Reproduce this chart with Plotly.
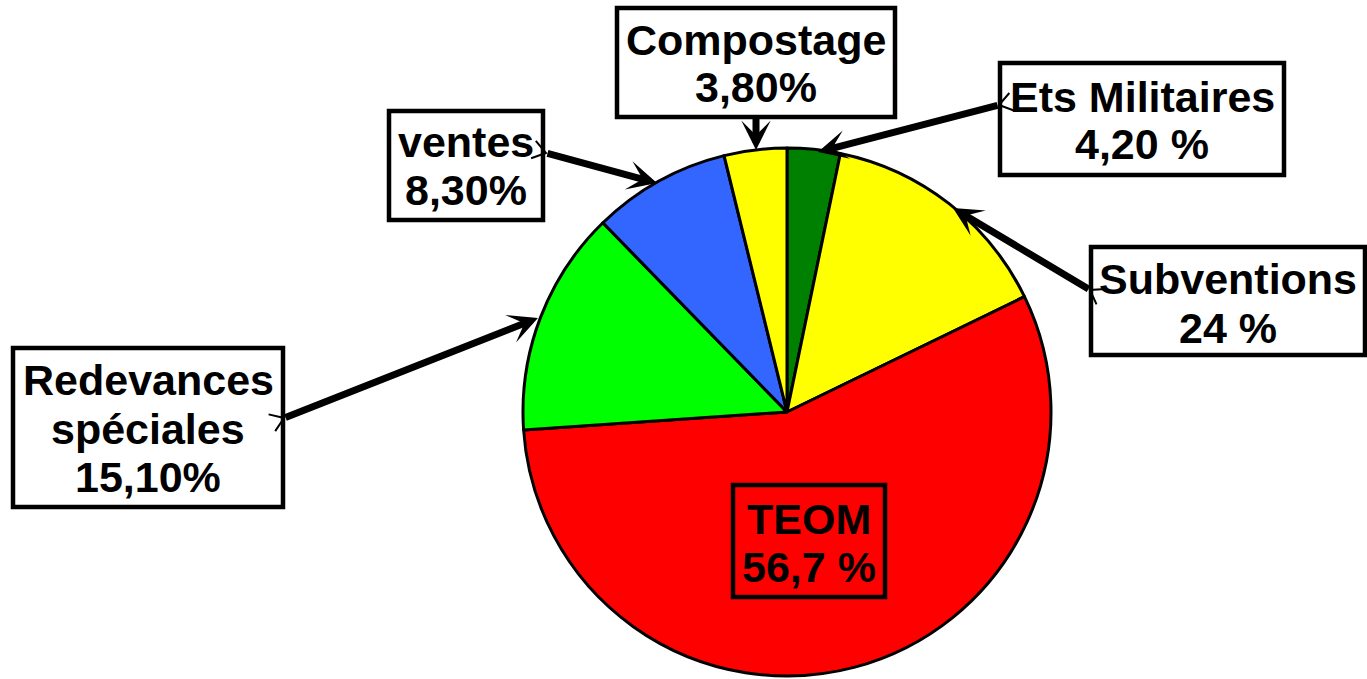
import math
import plotly.graph_objects as go

# ---- data (slice order: clockwise from 12 o'clock) ----
labels = ["Ets Militaires", "Subventions", "TEOM", "Redevances spéciales", "ventes", "Compostage"]
values = [3.24, 14.56, 56.1, 13.8, 8.45, 3.83]
colors = ["#008000", "#FFFF00", "#FF0000", "#00FF00", "#3366FF", "#FFFF00"]
label_lines = [
    ["Ets Militaires", "4,20 %"],
    ["Subventions", "24 %"],
    ["TEOM", "56,7 %"],
    ["Redevances", "spéciales", "15,10%"],
    ["ventes", "8,30%"],
    ["Compostage", "3,80%"],
]

W, H = 1367, 679
def px(x):
    return x / W
def py(y):
    return 1 - y / H

# layout of label boxes (pixels): left, top, right, bottom, first baseline, line step
boxes = [
    (1000, 63, 1284, 175, 112, 47),
    (1091, 247, 1365, 355, 294, 49),
    (733, 485, 885, 597, 534, 48),
    (13, 348, 283, 507, 395, 48.5),
    (389, 111, 543, 220, 157, 48),
    (617, 8, 895, 117, 55, 47),
]
# arrows: tail (x, y) -> head (x, y) in pixels; tail mark flag
arrows = [
    ((999, 105), (818, 152), True),
    ((1090, 290), (953, 208), True),
    None,
    ((284, 418), (538, 318), True),
    ((546, 153), (657, 183), True),
    ((756, 117), (756, 150), False),
]

cx0, cy0, R = 787, 412, 264
fig = go.Figure(go.Pie(
    labels=labels, values=values, sort=False, direction="clockwise", rotation=0,
    marker=dict(colors=colors, line=dict(color="black", width=3)),
    textinfo="none", hoverinfo="label+percent", showlegend=False,
    domain=dict(x=[px(cx0 - R), px(cx0 + R)], y=[py(cy0 + R), py(cy0 - R)]),
))

shapes = []
annotations = []
font = dict(family="Arial, Liberation Sans, sans-serif", size=43, color="black")
for i, (l, t, r, b, base, step) in enumerate(boxes):
    shapes.append(dict(
        type="rect", xref="paper", yref="paper",
        x0=px(l), x1=px(r), y0=py(b), y1=py(t),
        line=dict(color="black", width=4.5),
        fillcolor="rgba(0,0,0,0)" if labels[i] == "TEOM" else "white",
        layer="above",
    ))
    cx = (l + r) / 2
    for j, line in enumerate(label_lines[i]):
        yb = base + j * step
        annotations.append(dict(
            text="<b>%s</b>" % line, xref="paper", yref="paper",
            x=px(cx), y=py(yb - 15), xanchor="center", yanchor="middle",
            showarrow=False, font=font,
        ))
    if arrows[i] is not None:
        (tx, ty), (hx, hy), mark = arrows[i]
        annotations.append(dict(
            text="", xref="paper", yref="paper", x=px(hx), y=py(hy),
            axref="pixel", ayref="pixel", ax=tx - hx, ay=ty - hy,
            showarrow=True, arrowhead=3, arrowsize=0.7, arrowwidth=7,
            arrowcolor="black",
        ))
        if mark:
            L = math.hypot(hx - tx, hy - ty)
            ux, uy = (hx - tx) / L, (hy - ty) / L
            nx, ny = -uy, ux
            a1 = (tx - 13 * ux + 9 * nx, ty - 13 * uy + 9 * ny)
            a2 = (tx - 13 * ux - 9 * nx, ty - 13 * uy - 9 * ny)
            path = "M %f,%f L %f,%f L %f,%f" % (
                px(a1[0]), py(a1[1]), px(tx), py(ty), px(a2[0]), py(a2[1]))
            shapes.append(dict(type="path", xref="paper", yref="paper", path=path,
                               line=dict(color="black", width=2), layer="above"))

fig.update_layout(
    width=W, height=H, margin=dict(l=0, r=0, t=0, b=0),
    paper_bgcolor="white", plot_bgcolor="white",
    shapes=shapes, annotations=annotations,
)
fig.write_html("out.html", config={"displayModeBar": False},
               post_script="document.body.style.margin='0';document.body.style.overflow='hidden';")
